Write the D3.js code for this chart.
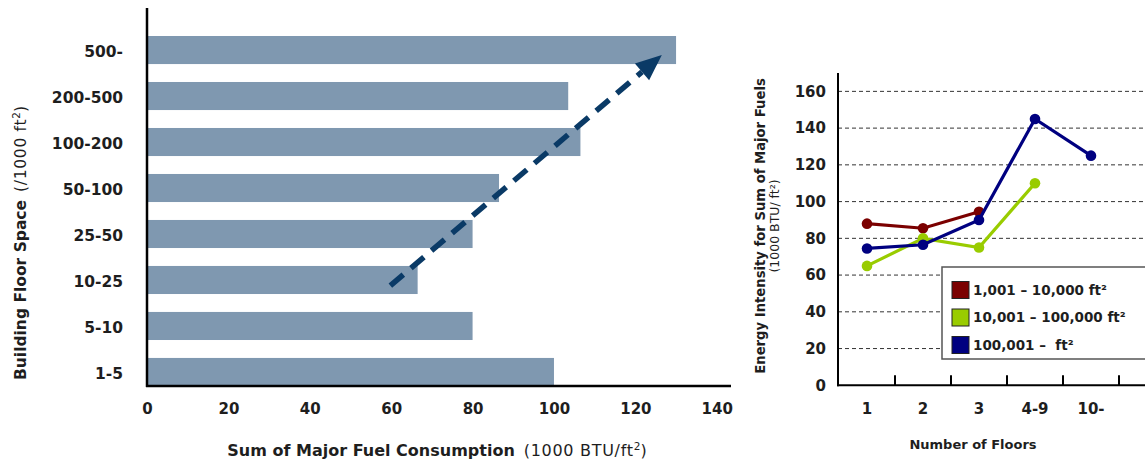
<!DOCTYPE html>
<html><head><meta charset="utf-8">
<script src="https://cdn.jsdelivr.net/npm/d3@7/dist/d3.min.js"></script>
<style>
html,body{margin:0;padding:0;background:#fff;}
svg{display:block;font-family:"DejaVu Sans",Verdana,sans-serif;}
</style></head>
<body>
<svg id="chart" width="1145" height="462"></svg>
<script>
// ---- Left chart data ----
const sizeCategories = ["500-","200-500","100-200","50-100","25-50","10-25","5-10","1-5"];
const fuelConsumption = [130, 103.5, 106.5, 86.5, 80, 66.5, 80, 100];
const barTicks = [0,20,40,60,80,100,120,140];

// ---- Right chart data ----
const floorCategories = ["1","2","3","4-9","10-"];
const seriesNames = ["1,001 \u2013 10,000 ft\u00B2","10,001 \u2013 100,000 ft\u00B2","100,001 \u2013  ft\u00B2"];
const smallBldg = [88, 85.5, 94.5, null, null];
const mediumBldg = [65, 80, 75, 110, null];
const largeBldg = [74.5, 76.5, 90, 145, 125];
const intensityTicks = [0,20,40,60,80,100,120,140,160];
const seriesColors = ["#7b0000","#99cc00","#000080"];

const svg = d3.select("#chart");
const txt = "#1e1e1e";

// ================= LEFT =================
const L = {x0:147, x1:731, yTop:8, yBot:386};
const x = d3.scaleLinear().domain([0,143.5]).range([L.x0, L.x1]);
const y = d3.scaleBand().domain(sizeCategories).range([36, L.yBot]).paddingInner(0.39).paddingOuter(0);

const gL = svg.append("g");
gL.selectAll("rect.bar").data(sizeCategories).join("rect")
  .attr("class","bar")
  .attr("x", x(0))
  .attr("y", d=>y(d))
  .attr("width", (d,i)=>x(fuelConsumption[i])-x(0))
  .attr("height", y.bandwidth())
  .attr("fill","#7f98b0");

gL.append("line").attr("x1",L.x0).attr("x2",L.x0).attr("y1",L.yTop).attr("y2",L.yBot+1)
  .attr("stroke","#000").attr("stroke-width",2.5);
gL.append("line").attr("x1",L.x0-1).attr("x2",L.x1).attr("y1",L.yBot).attr("y2",L.yBot)
  .attr("stroke","#000").attr("stroke-width",2.5);

const yAx = d3.axisLeft(y).tickSize(0).tickPadding(24);
const yG = gL.append("g").attr("transform",`translate(${L.x0},0)`).call(yAx);
yG.select(".domain").remove();
yG.selectAll("text").attr("font-size",15.5).attr("font-weight","bold").attr("fill",txt)
  .attr("font-family","DejaVu Sans").attr("dy","0.45em");

const xAx = d3.axisBottom(x).tickValues(barTicks).tickSize(0).tickPadding(17);
const xG = gL.append("g").attr("transform",`translate(0,${L.yBot})`).call(xAx);
xG.select(".domain").remove();
xG.selectAll("text").attr("font-size",15).attr("font-weight","bold").attr("fill",txt)
  .attr("font-family","DejaVu Sans");

const xt = gL.append("text").attr("x",437).attr("y",456).attr("text-anchor","middle")
  .attr("fill",txt).attr("font-size",16);
xt.append("tspan").attr("font-weight","bold").text("Sum of Major Fuel Consumption");
xt.append("tspan").attr("dx",9).attr("letter-spacing",0.7).text("(1000 BTU/ft");
xt.append("tspan").attr("font-size",10.5).attr("baseline-shift","super").text("2");
xt.append("tspan").text(")");

const yt = gL.append("text").attr("transform","translate(26,243) rotate(-90)").attr("text-anchor","middle")
  .attr("fill",txt).attr("font-size",15.5);
yt.append("tspan").attr("font-weight","bold").text("Building Floor Space");
yt.append("tspan").attr("dx",8).attr("letter-spacing",0.7).text("(/1000 ft");
yt.append("tspan").attr("font-size",10.5).attr("baseline-shift","super").text("2");
yt.append("tspan").text(")");

// arrow annotation
const ax1 = x(59.8), ay1 = y("10-25")+y.bandwidth()*0.7;
const ax2 = x(126.5), ay2 = y("500-")+y.bandwidth()*0.68;
const ang = Math.atan2(ay2-ay1, ax2-ax1);
const headLen = 26, headHalf = 11;
const bx = ax2 - headLen*Math.cos(ang), by = ay2 - headLen*Math.sin(ang);
gL.append("line").attr("x1",ax1).attr("y1",ay1).attr("x2",bx).attr("y2",by)
  .attr("stroke","#0a3a66").attr("stroke-width",5.5).attr("stroke-dasharray","17,10");
const px = -Math.sin(ang), py = Math.cos(ang);
gL.append("path").attr("d",`M${ax2},${ay2}L${bx+px*headHalf},${by+py*headHalf}L${bx-px*headHalf},${by-py*headHalf}Z`)
  .attr("fill","#0a3a66");

// ================= RIGHT =================
const R = {x0:838, x1:1150, yTop:73, yBot:385.3};
const xr = d3.scaleBand().domain(floorCategories).range([R.x0+1, R.x0+1+56*5]).padding(0);
const yr = d3.scaleLinear().domain([0,170]).range([R.yBot, R.yTop]);
const gR = svg.append("g");

gR.selectAll("line.grid").data(intensityTicks.filter(d=>d>0)).join("line")
  .attr("class","grid")
  .attr("x1",R.x0).attr("x2",R.x1).attr("y1",d=>yr(d)).attr("y2",d=>yr(d))
  .attr("stroke","#333").attr("stroke-width",1).attr("stroke-dasharray","4,3");

const yrAx = d3.axisLeft(yr).tickValues(intensityTicks).tickSize(0).tickPadding(12);
const yrG = gR.append("g").attr("transform",`translate(${R.x0},0)`).call(yrAx);
yrG.select(".domain").remove();
yrG.selectAll("text").attr("font-size",15).attr("font-weight","bold").attr("fill",txt)
  .attr("font-family","DejaVu Sans");

const xrAx = d3.axisBottom(xr).tickSize(0).tickPadding(18);
const xrG = gR.append("g").attr("transform",`translate(0,${R.yBot})`).call(xrAx);
xrG.select(".domain").remove();
xrG.selectAll("text").attr("font-size",15).attr("font-weight","bold").attr("fill",txt)
  .attr("font-family","DejaVu Sans");

gR.selectAll("line.xt").data(floorCategories).join("line").attr("class","xt")
  .attr("x1",d=>xr(d)+xr.bandwidth()).attr("x2",d=>xr(d)+xr.bandwidth())
  .attr("y1",R.yBot).attr("y2",R.yBot-10).attr("stroke","#000").attr("stroke-width",2);

gR.append("line").attr("x1",R.x0).attr("x2",R.x0).attr("y1",R.yTop).attr("y2",R.yBot+1)
  .attr("stroke","#000").attr("stroke-width",2);
gR.append("line").attr("x1",R.x0-1).attr("x2",R.x1).attr("y1",R.yBot).attr("y2",R.yBot)
  .attr("stroke","#000").attr("stroke-width",2);

const allSeries = [smallBldg, mediumBldg, largeBldg];
const line = d3.line().defined(d=>d.v!=null).x(d=>xr(d.c)+xr.bandwidth()/2).y(d=>yr(d.v));
allSeries.forEach((s,i)=>{
  const pts = floorCategories.map((c,j)=>({c, v:s[j]}));
  gR.append("path").datum(pts).attr("d",line).attr("fill","none")
    .attr("stroke",seriesColors[i]).attr("stroke-width",3.2);
  gR.selectAll(null).data(pts.filter(p=>p.v!=null)).join("circle")
    .attr("cx",d=>xr(d.c)+xr.bandwidth()/2).attr("cy",d=>yr(d.v)).attr("r",5.3)
    .attr("fill",seriesColors[i]);
});

const lg = gR.append("g");
lg.append("rect").attr("x",942).attr("y",267).attr("width",230).attr("height",92)
  .attr("fill","#fff").attr("stroke","#555").attr("stroke-width",1.5);
seriesNames.forEach((n,i)=>{
  const cy = 290 + i*27.5;
  lg.append("rect").attr("x",952).attr("y",cy-8.5).attr("width",17).attr("height",17)
    .attr("fill",seriesColors[i]).attr("stroke","#222").attr("stroke-width",1);
  lg.append("text").attr("x",973).attr("y",cy).attr("dy","0.36em").attr("font-size",13.5)
    .attr("font-weight","bold").attr("fill",txt).style("white-space","pre").text(n);
});

gR.append("text").attr("x",973).attr("y",449).attr("text-anchor","middle").attr("font-size",13)
  .attr("font-weight","bold").attr("fill",txt).text("Number of Floors");
gR.append("text").attr("transform","translate(765,226) rotate(-90)").attr("text-anchor","middle")
  .attr("font-size",13.2).attr("font-weight","bold").attr("fill",txt).text("Energy Intensity for Sum of Major Fuels");
gR.append("text").attr("transform","translate(779,226) rotate(-90)").attr("text-anchor","middle")
  .attr("font-size",12.5).attr("fill",txt).text("(1000 BTU/ ft\u00B2)");
</script>
</body></html>
